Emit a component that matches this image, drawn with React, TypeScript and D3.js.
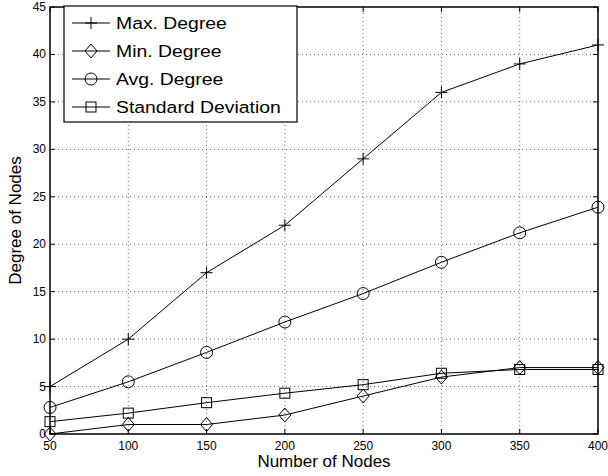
import React from "react";
import * as d3 from "d3";

const nodes = [50, 100, 150, 200, 250, 300, 350, 400];
const maxDegree = [5, 10, 17, 22, 29, 36, 39, 41];
const minDegree = [0, 1, 1, 2, 4, 6, 7, 7];
const avgDegree = [2.8, 5.5, 8.6, 11.8, 14.8, 18.1, 21.2, 23.9];
const stdDev = [1.3, 2.2, 3.3, 4.3, 5.2, 6.4, 6.8, 6.8];
const yTicks = [0, 5, 10, 15, 20, 25, 30, 35, 40, 45];

const series = [
  { name: "Max. Degree", values: maxDegree, marker: "plus" },
  { name: "Min. Degree", values: minDegree, marker: "diamond" },
  { name: "Avg. Degree", values: avgDegree, marker: "circle" },
  { name: "Standard Deviation", values: stdDev, marker: "square" },
];

const width = 608;
const height = 476;
const margin = { top: 7, right: 10, bottom: 42, left: 50 };
const font = "'Liberation Sans', Arial, Helvetica, sans-serif";

const Marker = ({ type, x, y }: { type: string; x: number; y: number }) => {
  const common = { fill: "none", stroke: "#000", strokeWidth: 1 };
  if (type === "plus")
    return (
      <path d={`M${x - 6},${y}H${x + 6}M${x},${y - 6}V${y + 6}`} {...common} />
    );
  if (type === "diamond")
    return (
      <path
        d={`M${x},${y - 7}L${x + 6},${y}L${x},${y + 7}L${x - 6},${y}Z`}
        {...common}
      />
    );
  if (type === "circle") return <circle cx={x} cy={y} r={6} {...common} />;
  return <rect x={x - 5} y={y - 5} width={10} height={10} {...common} />;
};

export default function App() {
  const x = d3
    .scaleLinear()
    .domain([50, 400])
    .range([margin.left, width - margin.right]);
  const y = d3
    .scaleLinear()
    .domain([0, 45])
    .range([height - margin.bottom, margin.top]);

  const line = d3
    .line<number>()
    .x((_, i) => x(nodes[i]))
    .y((d) => y(d));

  const [x0, x1] = x.range();
  const [y0, y1] = y.range();

  return (
    <svg
      width={width}
      height={height}
      style={{ position: "absolute", left: 0, top: 0, background: "#fff" }}
      fontFamily={font}
    >
      {/* grid */}
      <g stroke="#000" strokeWidth={0.6} strokeDasharray="1,3">
        {nodes.slice(1, -1).map((n) => (
          <line key={"gx" + n} x1={x(n)} x2={x(n)} y1={y0} y2={y1} />
        ))}
        {yTicks.slice(1, -1).map((t) => (
          <line key={"gy" + t} x1={x0} x2={x1} y1={y(t)} y2={y(t)} />
        ))}
      </g>
      {/* ticks */}
      <g stroke="#000" strokeWidth={1}>
        {nodes.map((n) => (
          <g key={"tx" + n}>
            <line x1={x(n)} x2={x(n)} y1={y0} y2={y0 - 5} />
            <line x1={x(n)} x2={x(n)} y1={y1} y2={y1 + 5} />
          </g>
        ))}
        {yTicks.map((t) => (
          <g key={"ty" + t}>
            <line x1={x0} x2={x0 + 5} y1={y(t)} y2={y(t)} />
            <line x1={x1} x2={x1 - 5} y1={y(t)} y2={y(t)} />
          </g>
        ))}
      </g>
      <rect
        x={x0}
        y={y1}
        width={x1 - x0}
        height={y0 - y1}
        fill="none"
        stroke="#000"
        strokeWidth={1.5}
      />
      {/* tick labels */}
      <g fontSize={12} fill="#000">
        {nodes.map((n) => (
          <text key={"lx" + n} x={x(n)} y={y0 + 16} textAnchor="middle">
            {n}
          </text>
        ))}
        {yTicks.map((t) => (
          <text key={"ly" + t} x={x0 - 4} y={y(t) + 4} textAnchor="end">
            {t}
          </text>
        ))}
      </g>
      <text x={(x0 + x1) / 2} y={467} textAnchor="middle" fontSize={17}>
        Number of Nodes
      </text>
      <text
        transform={`translate(21,${(y0 + y1) / 2}) rotate(-90)`}
        textAnchor="middle"
        fontSize={17}
      >
        Degree of Nodes
      </text>
      {/* series */}
      {series.map((s) => (
        <g key={s.name}>
          <path d={line(s.values) || ""} fill="none" stroke="#000" strokeWidth={1} />
          {s.values.map((v, i) => (
            <Marker key={i} type={s.marker} x={x(nodes[i])} y={y(v)} />
          ))}
        </g>
      ))}
      {/* legend */}
      <g>
        <rect x={64} y={6} width={233} height={116} fill="#fff" stroke="#000" strokeWidth={1.2} />
        {series.map((s, i) => {
          const ly = 23 + i * 28;
          return (
            <g key={"lg" + s.name}>
              <line x1={72} x2={110} y1={ly} y2={ly} stroke="#000" strokeWidth={1} />
              <Marker type={s.marker} x={91} y={ly} />
              <text
                transform={`translate(116,${ly + 6}) scale(1.14,1)`}
                fontSize={17}
              >
                {s.name}
              </text>
            </g>
          );
        })}
      </g>
    </svg>
  );
}
